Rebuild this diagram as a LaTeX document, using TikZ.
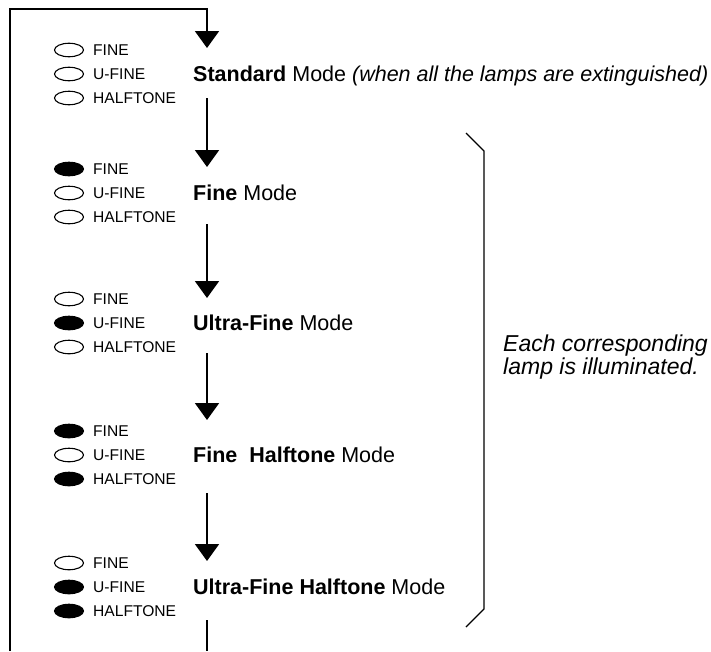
\documentclass[tikz,border=0pt]{standalone}
\usepackage{fontspec}
\setmainfont{Liberation Sans}
\usetikzlibrary{arrows.meta,shapes.geometric}

\begin{document}
\begin{tikzpicture}[x=1pt, y=-1pt,
    lampoff/.style={ellipse, draw=black, line width=1.1pt, fill=white, minimum width=29pt, minimum height=13.5pt, inner sep=0pt},
    lampon/.style={lampoff, fill=black},
    lamplbl/.style={font=\fontsize{15.6}{18}\selectfont, anchor=base west, inner sep=0pt},
    modelbl/.style={font=\fontsize{21.5}{25}\selectfont, anchor=base west, inner sep=0pt},
    notelbl/.style={font=\fontsize{23}{21}\selectfont\itshape, anchor=west, align=left, inner sep=0pt},
    flow/.style={line width=2pt, -{Triangle[width=24pt, length=17pt]}},
    plainflow/.style={line width=2pt},
    brace/.style={line width=1.2pt, line join=miter}
]
\useasboundingbox (0,0) rectangle (711,651);

%  -- Lamp panels, one per mode  --
\foreach \yc/\sf/\su/\sh [count=\g] in {74/lampoff/lampoff/lampoff, 193/lampon/lampoff/lampoff,
    323/lampoff/lampon/lampoff, 455/lampon/lampoff/lampon, 587/lampoff/lampon/lampon} {
  \node[\sf] (fine\g)  at (69,\yc-24) {};
  \node[\su] (ufine\g) at (69,\yc)    {};
  \node[\sh] (half\g)  at (69,\yc+24) {};
  \node[lamplbl] (finelbl\g)  at (93,\yc-24+5.6) {FINE};
  \node[lamplbl] (ufinelbl\g) at (93,\yc+5.6)    {U-FINE};
  \node[lamplbl] (halflbl\g)  at (93,\yc+24+5.6) {HALFTONE};
}

%  -- Mode names  --
\node[modelbl] (std)   at (193,81.5)  {\textbf{Standard} Mode \textit{(when all the lamps are extinguished)}};
\node[modelbl] (fine)  at (193,200.5) {\textbf{Fine} Mode};
\node[modelbl] (ufine) at (193,330.5) {\textbf{Ultra-Fine} Mode};
\node[modelbl] (fhalf) at (193,462.5) {\textbf{Fine\ \ Halftone} Mode};
\node[modelbl] (uhalf) at (193,594.5) {\textbf{Ultra-Fine Halftone} Mode};

%  -- Arrow ends  --
\coordinate (loopin)  at (10,651);
\coordinate (corner)  at (207,9);
\coordinate (t1) at (207,48);
\coordinate (s1) at (207,98);
\coordinate (t2) at (207,167);
\coordinate (s2) at (207,224);
\coordinate (t3) at (207,298);
\coordinate (s3) at (207,353);
\coordinate (t4) at (207,420);
\coordinate (s4) at (207,493);
\coordinate (t5) at (207,561);
\coordinate (s5) at (207,620);
\coordinate (loopout) at (207,651);

% Return path from the last mode back to the first
\draw[flow] (loopin) |- (corner) -- (t1);
\foreach \a/\b in {s1/t2, s2/t3, s3/t4, s4/t5}
  \draw[flow] (\a) -- (\b);
\draw[plainflow] (s5) -- (loopout);

%  -- Bracket and note  --
\coordinate (brtop) at (466,133);
\coordinate (brbot) at (466,627);
\draw[brace] (brtop) -- (484,151) -- (484,609) -- (brbot);
\node[notelbl] (note) at (503,357) {Each corresponding\\lamp is illuminated.};

\end{tikzpicture}
\end{document}
